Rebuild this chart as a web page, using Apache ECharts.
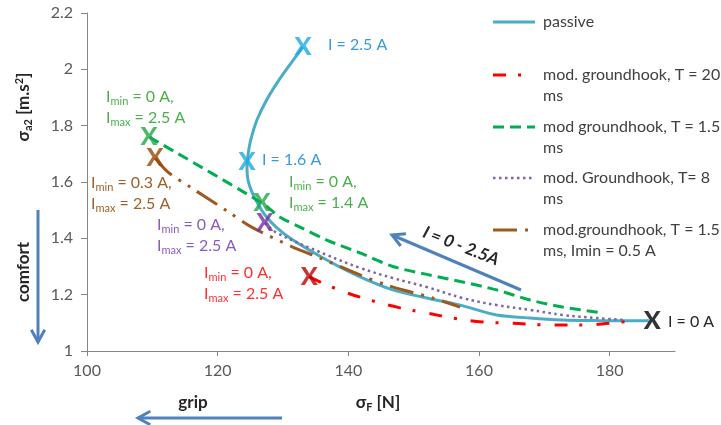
<!DOCTYPE html>
<html><head><meta charset="utf-8">
<script src="https://cdn.jsdelivr.net/npm/echarts@6/dist/echarts.min.js"></script>
<style>html,body{margin:0;padding:0;background:#fff}#c{width:721px;height:425px}</style>
</head><body><div id="c"></div>
<script>
// ---- data ----
const xTicks = [100, 120, 140, 160, 180];
const yTicks = [1, 1.2, 1.4, 1.6, 1.8, 2, 2.2];

const passiveX = [133.05, 130.91, 129.07, 127.39, 126.01, 125.10, 124.64, 124.48, 124.64, 125.25, 126.17, 127.24, 129.07, 131.52, 136.7, 141.8, 146.8, 152.0, 157.1, 162.7, 167.8, 172.8, 178.0, 183.0, 186.0];
const passiveY = [2.079, 2.012, 1.951, 1.887, 1.820, 1.753, 1.696, 1.653, 1.607, 1.564, 1.522, 1.483, 1.437, 1.394, 1.323, 1.263, 1.217, 1.188, 1.163, 1.128, 1.117, 1.110, 1.108, 1.107, 1.107];

const redX = [134.0, 139.0, 143.3, 147.9, 152.0, 156.0, 160.6, 164.7, 171.3, 176.5, 180.0, 183.1];
const redY = [1.263, 1.213, 1.181, 1.153, 1.135, 1.117, 1.103, 1.099, 1.092, 1.092, 1.099, 1.106];

const greenX = [109.5, 126.8, 129.5, 132.6, 136.7, 141.8, 146.8, 152.0, 157.5, 162.7, 167.8, 172.8, 179.0];
const greenY = [1.760, 1.525, 1.476, 1.440, 1.394, 1.348, 1.300, 1.272, 1.245, 1.217, 1.181, 1.156, 1.135];

const purpleX = [127.2, 129.1, 136.7, 141.8, 146.8, 152.0, 157.5, 162.7, 167.8, 172.8, 178.0, 182.3];
const purpleY = [1.454, 1.419, 1.341, 1.295, 1.259, 1.227, 1.188, 1.163, 1.146, 1.128, 1.117, 1.110];

const brownX = [110.4, 112.4, 115.8, 121.9, 125.2, 131.5, 135.7, 141.8, 145.9, 152.9, 157.1];
const brownY = [1.685, 1.635, 1.582, 1.490, 1.440, 1.369, 1.330, 1.270, 1.234, 1.188, 1.156];

// X markers
const passiveMarks = [[133.05, 2.079], [124.5, 1.671]];
const zeroMark = [[186.5, 1.107]];
const greenMarks = [[109.5, 1.760], [126.8, 1.525]];
const brownMarks = [[110.4, 1.685]];
const purpleMarks = [[127.2, 1.454]];
const redMarks = [[134.0, 1.263]];

const legendNames = ['passive', 'mod. groundhook, T = 20\nms', 'mod groundhook, T = 1.5\nms', 'mod. Groundhook, T= 8\nms', 'mod.groundhook, T = 1.5\nms, Imin = 0.5 A'];

// ---- styles ----
const FONT = 'Lato';
const C = {
  passive: '#4bacc6', red: '#ff0000', green: '#00b050', purple: '#8064a2', brown: '#9c5a20',
  blueX: '#1aaae6', redX: '#c00000', greenX: '#22a84a', purpleX: '#7030a0', brownX: '#984807',
  arrow: '#4f81bd', text: '#262626', tick: '#595959'
};
const LS = {
  passive: {color: C.passive, width: 3, type: 'solid'},
  red: {color: C.red, width: 3, type: [13, 12, 3, 14]},
  green: {color: C.green, width: 3, type: [11, 6]},
  purple: {color: C.purple, width: 2.5, type: [2.5, 3.5]},
  brown: {color: C.brown, width: 3, type: [24, 8, 3, 8, 3, 8]}
};
const zip = (a, b) => a.map((v, i) => [v, b[i]]);

function lineSeries(name, xs, ys, ls, smooth) {
  return {type: 'line', name, data: zip(xs, ys), showSymbol: false, symbol: 'none', smooth: smooth,
    lineStyle: {color: ls.color, width: ls.width, type: ls.type}, z: 3};
}
function markSeries(data, color) {
  return {type: 'scatter', data, symbolSize: 1, itemStyle: {color: 'rgba(0,0,0,0)'}, z: 10,
    label: {show: true, position: 'inside', formatter: 'X', fontSize: 25, fontWeight: 900, fontFamily: FONT, color}};
}

function richLabel(x, y, color, l1, l2) {
  return {type: 'text', x, y, z: 20, style: {
    text: `{n|I}{s|min}{n|${l1}}\n{n|I}{s|max}{n|${l2}}`,
    align: 'left', verticalAlign: 'middle',
    rich: {
      n: {fontSize: 16, fontFamily: FONT, fill: color, lineHeight: 21},
      s: {fontSize: 11, fontFamily: FONT, fill: color, padding: [9, 0, 0, 0]}
    }}};
}
function plainText(x, y, text, color, opts) {
  return Object.assign({type: 'text', x, y, z: 20, style: Object.assign({text, fill: color, fontSize: 16, fontFamily: FONT, align: 'left', verticalAlign: 'middle'}, (opts && opts.style) || {})}, (opts && opts.el) || {});
}
function arrow(x1, y1, x2, y2, color, w, head) {
  const a = Math.atan2(y2 - y1, x2 - x1), s = 0.5;
  return [
    {type: 'line', z: 15, shape: {x1, y1, x2, y2}, style: {stroke: color, lineWidth: w}},
    {type: 'polyline', z: 15, shape: {points: [[x2 - head * Math.cos(a - s), y2 - head * Math.sin(a - s)], [x2, y2], [x2 - head * Math.cos(a + s), y2 - head * Math.sin(a + s)]]},
      style: {stroke: color, lineWidth: w, fill: null, lineJoin: 'miter'}}
  ];
}

const graphics = [];
// annotations
graphics.push(richLabel(106, 107, '#4cb04a', ' = 0 A,', ' = 2.5 A'));
graphics.push(richLabel(289, 192, '#4cb04a', ' = 0 A,', ' = 1.4 A'));
graphics.push(richLabel(91, 193, '#a0602a', ' = 0.3 A,', ' = 2.5 A'));
graphics.push(richLabel(157, 235, '#8a5cc0', ' = 0 A,', ' = 2.5 A'));
graphics.push(richLabel(204, 283, '#ff3030', ' = 0 A,', ' = 2.5 A'));
graphics.push(plainText(328, 45, 'I = 2.5 A', '#3a9ad9'));
graphics.push(plainText(262, 160, 'I = 1.6 A', '#3a9ad9'));
graphics.push(plainText(668, 322, 'I = 0 A', C.text));
// arrows
graphics.push(...arrow(38, 210, 38, 342, C.arrow, 3, 14));
graphics.push(...arrow(282, 418, 138, 418, C.arrow, 3, 14));
graphics.push(...arrow(521, 290, 392, 235, C.arrow, 3, 14));
graphics.push(plainText(461, 246, 'I = 0 - 2.5A', C.text, {style: {fontWeight: 'bold', fontStyle: 'italic', align: 'center', fontSize: 17}, el: {rotation: -0.37}}));
graphics.push(plainText(24, 272, 'comfort', C.text, {style: {fontWeight: 'bold', align: 'center', fontSize: 17}, el: {rotation: Math.PI / 2}}));
graphics.push(plainText(193, 403, 'grip', C.text, {style: {fontWeight: 'bold', align: 'center', fontSize: 17}}));
// axis titles
graphics.push({type: 'text', x: 378, y: 403, z: 20, style: {text: '{b|σ}{sb|F}{b| [N]}', align: 'center', verticalAlign: 'middle',
  rich: {b: {fontSize: 17, fontWeight: 'bold', fontFamily: FONT, fill: C.text}, sb: {fontSize: 11, fontWeight: 'bold', fontFamily: FONT, fill: C.text, padding: [9, 0, 0, 0]}}}});
graphics.push({type: 'text', x: 24, y: 107, z: 20, rotation: Math.PI / 2, style: {text: '{b|σ}{sb|a2}{b| [m.s}{sp|2}{b|]}', align: 'center', verticalAlign: 'middle',
  rich: {b: {fontSize: 17, fontWeight: 'bold', fontFamily: FONT, fill: C.text}, sb: {fontSize: 11, fontWeight: 'bold', fontFamily: FONT, fill: C.text, padding: [9, 0, 0, 0]},
    sp: {fontSize: 11, fontWeight: 'bold', fontFamily: FONT, fill: C.text, padding: [0, 0, 9, 0]}}}});
// legend
const legendStyles = [LS.passive, LS.red, LS.green, LS.purple, LS.brown];
const legendY = [22, 75, 127, 178, 230];
legendNames.forEach((n, i) => {
  const ls = legendStyles[i];
  graphics.push({type: 'line', z: 20, shape: {x1: 493, y1: legendY[i], x2: 535, y2: legendY[i]},
    style: {stroke: ls.color, lineWidth: ls.width, lineDash: ls.type === 'solid' ? null : ls.type}});
  graphics.push({type: 'text', x: 543, y: legendY[i] - 11, z: 20, style: {text: n, fill: '#404040', fontSize: 16, fontFamily: FONT, lineHeight: 21.5, align: 'left', verticalAlign: 'top'}});
});

const chart = echarts.init(document.getElementById('c'), null, {renderer: 'canvas'});
chart.setOption({
  animation: false,
  backgroundColor: '#fff',
  grid: {left: 87, right: 46, top: 13, bottom: 74, containLabel: false},
  xAxis: {type: 'value', min: 100, max: 190, interval: 20,
    axisLine: {show: true, lineStyle: {color: '#868686', width: 1}},
    axisTick: {show: true, length: 5, customValues: xTicks, lineStyle: {color: '#868686'}},
    axisLabel: {customValues: xTicks, color: C.tick, fontSize: 16, fontFamily: FONT, margin: 12},
    splitLine: {show: false}},
  yAxis: {type: 'value', min: 1, max: 2.2, interval: 0.2,
    axisLine: {show: true, lineStyle: {color: '#868686', width: 1}},
    axisTick: {show: true, length: 6, lineStyle: {color: '#868686'}},
    axisLabel: {color: C.tick, fontSize: 16, fontFamily: FONT, margin: 14, formatter: v => String(+v.toFixed(1))},
    splitLine: {show: false}},
  series: [
    lineSeries('passive', passiveX, passiveY, LS.passive, 0.25),
    lineSeries('red', redX, redY, LS.red, 0.4),
    lineSeries('green', greenX, greenY, LS.green, 0.3),
    lineSeries('purple', purpleX, purpleY, LS.purple, 0.4),
    lineSeries('brown', brownX, brownY, LS.brown, 0.3),
    markSeries(passiveMarks, C.blueX),
    markSeries(zeroMark, '#000000'),
    markSeries(greenMarks, C.greenX),
    markSeries(brownMarks, C.brownX),
    markSeries(purpleMarks, C.purpleX),
    markSeries(redMarks, C.redX)
  ],
  graphic: graphics
});
</script>
</body></html>
